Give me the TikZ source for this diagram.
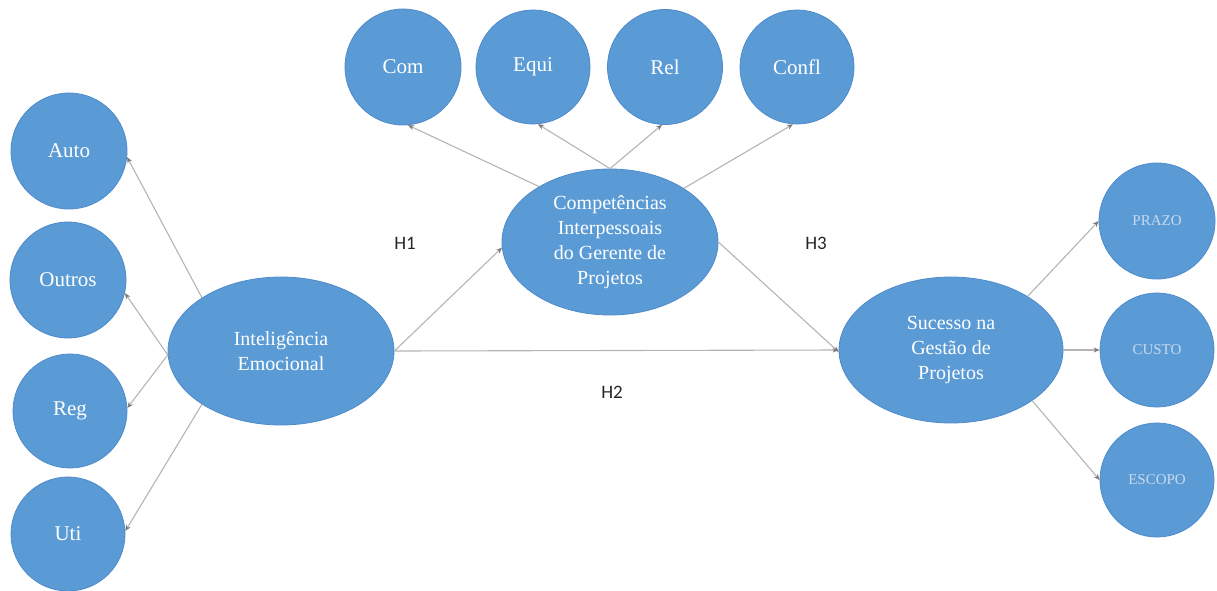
\documentclass[tikz,border=0pt]{standalone}
\usepackage{fontspec}
\setmainfont{Liberation Serif}
\newfontfamily\hfont{Carlito}
\usetikzlibrary{shapes.geometric,arrows.meta}
\definecolor{bubble}{HTML}{5B9BD5}
\definecolor{bubbleedge}{HTML}{4E8ACB}
\definecolor{link}{HTML}{B4B4B4}
\definecolor{tip}{HTML}{7A7A7A}
\definecolor{paletext}{HTML}{C9D9EE}
\tikzset{
  bubblebase/.style={fill=bubble, draw=bubbleedge, line width=0.8pt, inner sep=0pt, align=center},
  indicator/.style={bubblebase, circle, text=white, font=\fontsize{21}{25}\selectfont},
  smallind/.style={bubblebase, circle, text=paletext, font=\fontsize{15}{18}\selectfont},
  construct/.style={bubblebase, ellipse, text=white, font=\fontsize{20}{25}\selectfont},
  link/.style={draw=link, line width=1.1pt, -{Stealth[length=6pt,width=5pt,color=tip]}},
  hyp/.style={font=\hfont\fontsize{19}{22}\selectfont, text=black!85}
}
\begin{document}
\begin{tikzpicture}[x=1pt,y=-1pt]
\useasboundingbox (0,0) rectangle (1217,590);

% first-order indicators of emotional intelligence
\node[indicator, minimum size=116pt] (auto)   at (69,151)  {Auto};
\node[indicator, minimum size=116pt] (outros) at (68,280)  {Outros};
\node[indicator, minimum size=114pt] (reg)    at (70,411)  {Reg};
\node[indicator, minimum size=114pt] (uti)    at (68,534)  {Uti};

% indicators of interpersonal competences
\node[indicator, minimum size=116pt] (com)   at (403,67) {Com};
\node[indicator, minimum size=114pt] (equi)  at (533,67) {Equi};
\node[indicator, minimum size=115pt] (rel)   at (665,67) {Rel};
\node[indicator, minimum size=114pt] (confl) at (797,67) {Confl};

% indicators of project success
\node[smallind, minimum size=116pt] (prazo)  at (1157,221) {PRAZO};
\node[smallind, minimum size=114pt] (custo)  at (1157,350) {CUSTO};
\node[smallind, minimum size=114pt] (escopo) at (1157,480) {ESCOPO};

% latent constructs
\node[construct, minimum width=226pt, minimum height=148pt] (ie) at (281,351)
  {Inteligência\\Emocional};
\node[construct, minimum width=216pt, minimum height=146pt] (ci) at (610,242)
  {Competências\\Interpessoais\\do Gerente de\\Projetos};
\node[construct, minimum width=224pt, minimum height=146pt] (sgp) at (951,350)
  {Sucesso na\\Gestão de\\Projetos};

% hypothesis labels
\node[hyp] (h1) at (405,243) {H1};
\node[hyp] (h3) at (816,243) {H3};
\node[hyp] (h2) at (612,392) {H2};

% emotional intelligence -> its indicators
\draw[link] (ie.146) -- (auto.-6);
\draw[link] (ie.182) -- (outros.-13);
\draw[link] (ie.182) -- (reg.3);
\draw[link] (ie.214) -- (uti.3);

% interpersonal competences -> its indicators
\draw[link] (ci.142) -- (com.-85);
\draw[link] (ci.north) -- (equi.-85);
\draw[link] (ci.north) -- (rel.-93);
\draw[link] (ci.36) -- (confl.-94);

% structural paths
\draw[link] (ie.east) -- (ci.183);
\draw[link] (ie.east) -- (sgp.west);
\draw[link] (ci.east) -- (sgp.181);

% project success -> its indicators
\draw[link] (sgp.35) -- (prazo.west);
\draw[link] (sgp.east) -- (custo.west);
\draw[link] (sgp.-32) -- (escopo.west);
\end{tikzpicture}
\end{document}
